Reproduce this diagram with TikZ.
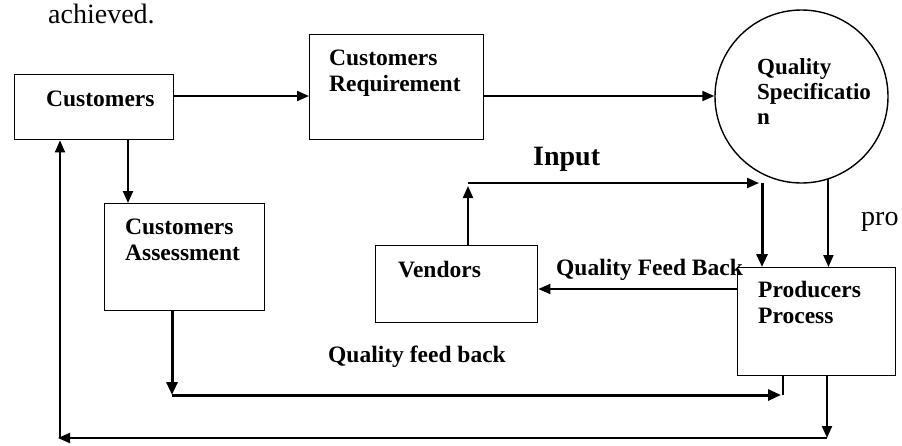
\documentclass[tikz,border=0pt]{standalone}
\usepackage{fontspec}
\setmainfont{Liberation Serif}
\usetikzlibrary{arrows.meta,calc}
\begin{document}
\begin{tikzpicture}[x=1pt,y=-1pt,
  box/.style={draw,line width=1.4pt,inner sep=0pt,anchor=north west},
  lbl/.style={inner sep=0pt,anchor=base west,align=left,
    font=\bfseries\fontsize{23.5}{26}\selectfont},
  body/.style={inner sep=0pt,anchor=base west,font=\fontsize{28}{32}\selectfont},
  link/.style={line width=2pt,-{Triangle[length=12pt,width=10pt]}},
  heavy/.style={line width=3pt,-{Triangle[length=13pt,width=11pt]}},
  plain/.style={line width=2pt}]
\useasboundingbox (0,0) rectangle (902,445);

% text running in from the page
\node[body] (achv) at (48,23) {achieved.};
\node[body] (pro) at (861,225) {pro};

% boxes
\node[box,minimum width=159pt,minimum height=65pt] (cust) at (14,74) {};
\node[box,minimum width=174pt,minimum height=105pt] (req) at (309,34) {};
\node[box,minimum width=160pt,minimum height=107pt] (assess) at (104,203) {};
\node[box,minimum width=162pt,minimum height=77pt] (vend) at (375,245) {};
\node[box,minimum width=158pt,minimum height=108pt] (prod) at (737,267) {};
\node[draw,line width=1.4pt,circle,minimum size=173pt,inner sep=0pt] (spec) at (801.5,96.5) {};

% box texts (anchored at the baseline of the last line)
\node[lbl] (custT) at (46,106) {Customers};
\node[lbl] (reqT) at (329,91) {Customers\\Requirement};
\node[lbl] (assessT) at (125,260) {Customers\\Assessment};
\node[lbl] (vendT) at (398,277) {Vendors};
\node[lbl] (prodT) at (758,323) {Producers\\Process};
\node[lbl,font=\bfseries\fontsize{23}{25}\selectfont] (specT) at (757,124) {Quality\\Specificatio\\n};

% connector labels
\node[lbl,font=\bfseries\fontsize{28}{32}\selectfont] (inputT) at (533,165) {Input};
\node[lbl] (qfbT) at (556,275) {Quality Feed Back};
\node[lbl] (qfb2T) at (328,362) {Quality feed back};

% bend points
\coordinate (inA) at (468,183);
\coordinate (inB) at (762,183);
\coordinate (fbA) at (172,395);
\coordinate (fbB) at (783,395);
\coordinate (loA) at (827,438);
\coordinate (loB) at (58,438);

% main flow
\draw[link] (cust.east |- 0,96) -- (req.west |- 0,96);
\draw[link] (req.east |- 0,96) -- (spec.west |- 0,96);
\draw[link] (cust.south -| 128,0) -- (assess.north -| 128,0);
\draw[link] (spec.-72) -- (spec.-72 |- prod.north);

% input from vendors
\draw[link] (vend.north -| inA) -- ($(inA)+(0,3)$);
\draw[link] (inA) -- ($(inB)+(-3,0)$);
\draw[heavy] (inB) -- (inB |- prod.north);

% quality feed back to vendors
\draw[link] (prod.west |- 0,289) -- (vend.east |- 0,289);

% quality feed back from the assessment
\draw[heavy] (assess.south -| fbA) -- (fbA);
\draw[heavy] (fbA) -- ($(fbB)+(-2,0)$);
\draw[plain] (prod.south -| fbB) -- (fbB);

% outer loop back to the customers
\draw[link] (prod.south -| loA) -- (loA);
\draw[link] (loA) -- (loB);
\draw[link] (60,438) -- (cust.south -| 60,0);
\end{tikzpicture}
\end{document}
